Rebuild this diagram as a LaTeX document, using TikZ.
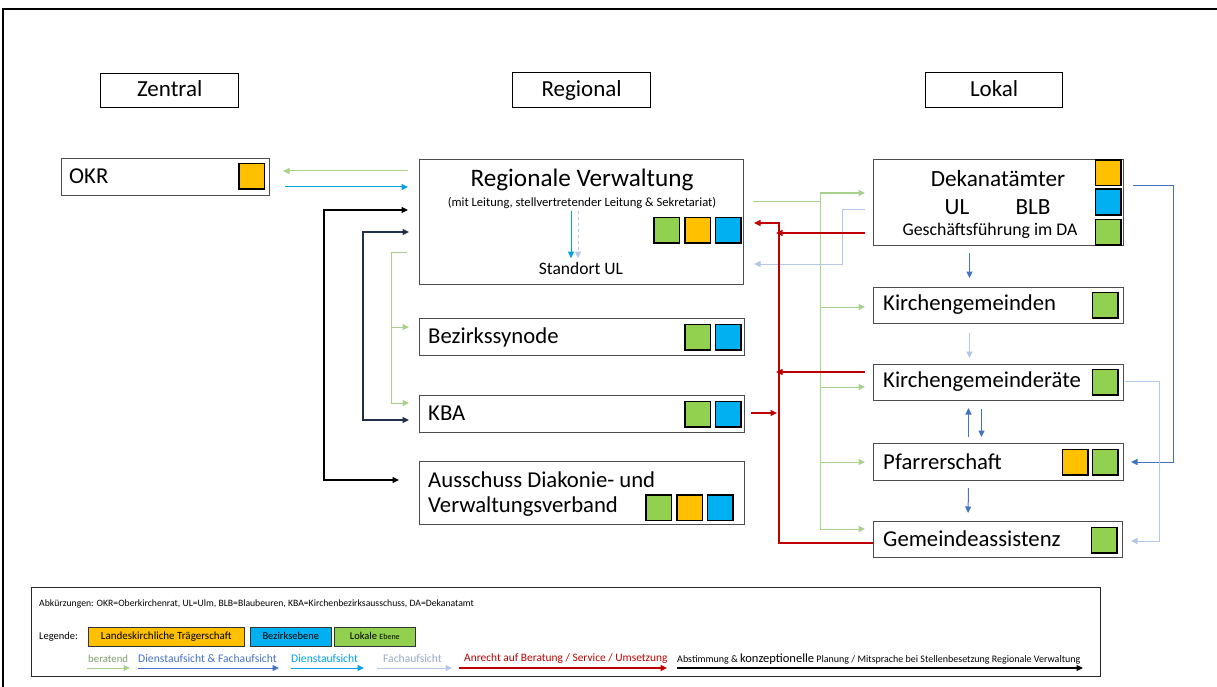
\documentclass[tikz,border=0pt]{standalone}
\usepackage{fontspec}
\setmainfont{Carlito}
\usetikzlibrary{arrows.meta,calc}

\definecolor{sqgreen}{HTML}{92D050}
\definecolor{sqorange}{HTML}{FFC000}
\definecolor{sqblue}{HTML}{00B0F0}
\definecolor{cbera}{HTML}{A9D18E}
\definecolor{cdfa}{HTML}{4472C4}
\definecolor{cdienst}{HTML}{00A2E8}
\definecolor{cfach}{HTML}{B4C7E7}
\definecolor{canr}{HTML}{C00000}
\definecolor{cnavy}{HTML}{22304A}

\newcommand\fs[2]{\fontsize{#1}{#2}\selectfont}

\tikzset{
  >={Triangle[length=6.5pt,width=6pt]},
  hdr/.style={draw=black, line width=1.3pt, inner sep=0pt, anchor=north west, font=\fs{23}{26}, text height=15pt, text depth=3pt},
  box/.style={draw=black!70, line width=1pt, fill=white, inner sep=0pt, anchor=north west},
  lbl/.style={anchor=west, inner sep=0pt, font=\fs{22.7}{27}},
  sq/.style={draw=black, line width=1.5pt, minimum size=25.5pt, inner sep=0pt, anchor=north west},
  legbox/.style={draw=black!80, line width=0.6pt, inner sep=0pt, anchor=north west, minimum height=19pt, text height=7.5pt, text depth=2pt},
  beratend/.style={draw=cbera, line width=1pt},
  dfa/.style={draw=cdfa, line width=1pt},
  dienst/.style={draw=cdienst, line width=1pt},
  fach/.style={draw=cfach, line width=1pt},
  anrecht/.style={draw=canr, line width=1.2pt},
  abst/.style={draw=black, line width=1.1pt},
  legtxt/.style={anchor=west, inner sep=0pt, font=\fs{11.6}{13}},
}

\begin{document}
\begin{tikzpicture}[x=1pt,y=-1pt]
\useasboundingbox (0,0) rectangle (1217,687);
% page frame (top and left)
\draw[black, line width=1.5pt] (3,687) -- (3,9) -- (1217,9);

% column headers
\node[hdr, minimum width=138pt, minimum height=34pt] (zen) at (100,73) {Zentral};
\node[hdr, minimum width=138pt, minimum height=35pt] (regh) at (512,72) {Regional};
\node[hdr, minimum width=137pt, minimum height=35pt] (lokh) at (925,72) {Lokal};

% central level
\node[box, minimum width=208pt, minimum height=37pt] (okr) at (61,158) {};
\node[lbl] (okrT) at (69,176.5) {OKR};
\node[sq, fill=sqorange] (okrO) at (238,163) {};

% regional level
\node[box, minimum width=324pt, minimum height=125pt] (reg) at (419,159) {};
\node[inner sep=0pt, font=\fs{25.2}{29}] (regT) at (582,180) {Regionale Verwaltung};
\node[inner sep=0pt, font=\fs{12.6}{14}] (regS) at (582,203) {(mit Leitung, stellvertretender Leitung \& Sekretariat)};
\node[inner sep=0pt, font=\fs{17.5}{20}] (regU) at (581,268.5) {Standort UL};
\node[sq, fill=sqgreen] (regG) at (653,216.5) {};
\node[sq, fill=sqorange] (regO) at (684,216.5) {};
\node[sq, fill=sqblue] (regB) at (714.5,216.5) {};
\draw[dienst, ->, shorten <=2pt, shorten >=4pt] ([xshift=-11pt]regS.south) -- ([xshift=-10pt]regU.north);
\draw[fach, dashed, ->, shorten <=2pt, shorten >=4pt] ([xshift=-4pt]regS.south) -- ([xshift=-3pt]regU.north);

\node[box, minimum width=325pt, minimum height=37pt] (bez) at (419,318) {};
\node[lbl] (bezT) at (428,337) {Bezirkssynode};
\node[sq, fill=sqgreen] (bezG) at (684,323.5) {};
\node[sq, fill=sqblue] (bezB) at (714.5,323.5) {};

\node[box, minimum width=325pt, minimum height=37pt] (kba) at (419,395) {};
\node[lbl] (kbaT) at (428,413.5) {KBA};
\node[sq, fill=sqgreen] (kbaG) at (684,400.5) {};
\node[sq, fill=sqblue] (kbaB) at (714.5,400.5) {};

\node[box, minimum width=325pt, minimum height=63pt] (aus) at (419,461) {};
\node[lbl] (ausT1) at (428,479.5) {Ausschuss Diakonie- und};
\node[lbl] (ausT2) at (428,506.5) {Verwaltungsverband};
\node[sq, fill=sqgreen] (ausG) at (645,494) {};
\node[sq, fill=sqorange] (ausO) at (676,494) {};
\node[sq, fill=sqblue] (ausB) at (706.5,494) {};

% local level
\node[box, minimum width=250pt, minimum height=86pt] (dek) at (873,159) {};
\node[inner sep=0pt, font=\fs{23.2}{27}] (dekT) at (998,178.5) {Dekanatämter};
\node[inner sep=0pt, font=\fs{23.2}{27}] (dekUL) at (957,207) {UL};
\node[inner sep=0pt, font=\fs{23.2}{27}] (dekBLB) at (1033,207) {BLB};
\node[inner sep=0pt, font=\fs{17.8}{20}] (dekGF) at (990,230.5) {Geschäftsführung im DA};
\node[sq, fill=sqorange] (dekO) at (1094.5,159.5) {};
\node[sq, fill=sqblue] (dekB) at (1094.5,188.5) {};
\node[sq, fill=sqgreen] (dekG) at (1094.5,218.5) {};

\node[box, minimum width=250pt, minimum height=36pt] (kg) at (873,287) {};
\node[lbl] (kgT) at (883,305) {Kirchengemeinden};
\node[sq, fill=sqgreen] (kgG) at (1091.5,291.5) {};

\node[box, minimum width=250pt, minimum height=36pt] (kgr) at (873,364) {};
\node[lbl] (kgrT) at (883,382) {Kirchengemeinderäte};
\node[sq, fill=sqgreen] (kgrG) at (1091.5,368.5) {};

\node[box, minimum width=250pt, minimum height=37pt] (pf) at (873,443) {};
\node[lbl] (pfT) at (883,461.5) {Pfarrerschaft};
\node[sq, fill=sqorange] (pfO) at (1061.5,448.5) {};
\node[sq, fill=sqgreen] (pfG) at (1091.5,448.5) {};

\node[box, minimum width=249pt, minimum height=36pt] (ga) at (873,521) {};
\node[lbl] (gaT) at (883,539) {Gemeindeassistenz};
\node[sq, fill=sqgreen] (gaG) at (1090.5,526.5) {};

% bus lines
\coordinate (gl) at (391,0);
\coordinate (gr) at (820,0);
\coordinate (rb) at (779,0);

% OKR <-> Regionale Verwaltung
\draw[beratend, ->, shorten <=11pt, shorten >=13pt] (reg.west |- 0,171) -- (okr.east |- 0,171);
\draw[dienst, ->, shorten <=15pt, shorten >=11pt] (okr.east |- 0,187) -- (reg.west |- 0,187);

% coordination loops on the left
\draw[abst, <->, shorten <=20pt, shorten >=11pt] (aus.west |- 0,480) -| (324,210) -- (reg.west |- 0,210);
\draw[draw=cnavy, line width=1.1pt, <->, shorten <=10pt, shorten >=10pt] (kba.west |- 0,420) -| (363,232) -- (reg.west |- 0,232);

% advisory bracket on the left
\draw[beratend, ->, shorten <=12pt, shorten >=10pt] (reg.west |- 0,252) -| (gl |- 0,403) -- (kba.west |- 0,403);
\draw[beratend, ->, shorten >=10pt] (gl |- 0,327) -- (bez.west |- 0,327);

% advisory bus on the right
\draw[beratend, shorten <=9pt] (reg.east |- 0,201) -- (gr |- 0,201);
\draw[beratend] (gr |- 0,193) -- (gr |- 0,529);
\draw[beratend, ->, shorten >=8pt] (gr |- 0,193) -- (dek.west |- 0,193);
\draw[beratend, ->, shorten >=8pt] (gr |- 0,307) -- (kg.west |- 0,307);
\draw[beratend, ->, shorten >=8pt] (gr |- 0,387) -- (kgr.west |- 0,387);
\draw[beratend, ->, shorten >=8pt] (gr |- 0,462) -- (pf.west |- 0,462);
\draw[beratend, ->, shorten >=8pt] (gr |- 0,529) -- (ga.west |- 0,529);

% Fachaufsicht Dekanatämter -> Standort UL
\draw[fach, ->, shorten <=8pt, shorten >=10pt] (dek.west |- 0,209) -| (842,264) -- (reg.east |- 0,264);

% service bus (red)
\draw[anrecht, ->, shorten >=10pt] (ga.west |- 0,543) -| (rb |- 0,223) -- (reg.east |- 0,223);
\draw[anrecht, ->, shorten <=8pt, shorten >=-3pt] (dek.west |- 0,233) -- (rb |- 0,233);
\draw[anrecht, ->, shorten <=8pt, shorten >=-3pt] (kgr.west |- 0,372) -- (rb |- 0,372);
\draw[anrecht, ->, shorten <=6pt, shorten >=2pt] (kba.east |- 0,413) -- (rb |- 0,413);

% supervision inside the local column
\draw[dfa, ->, shorten <=7pt, shorten >=9pt] ([xshift=-29pt]dek.south) -- ([xshift=-29pt]kg.north);
\draw[fach, ->, shorten <=9pt, shorten >=6pt] ([xshift=-29pt]kg.south) -- ([xshift=-29pt]kgr.north);
\draw[dfa, ->, shorten <=6pt, shorten >=7pt] ([xshift=-30pt]pf.north) -- ([xshift=-30pt]kgr.south);
\draw[dfa, ->, shorten <=8pt, shorten >=6pt] ([xshift=-17pt]kgr.south) -- ([xshift=-17pt]pf.north);
\draw[dfa, ->, shorten <=7pt, shorten >=8pt] ([xshift=-30pt]pf.south) -- ([xshift=-30pt]ga.north);

% supervision loops on the right
\draw[dfa, ->, shorten <=9pt, shorten >=7pt] (dek.east |- 0,186) -| (1173,462) -- (pf.east |- 0,462);
\draw[fach, ->, shorten <=1pt, shorten >=8pt] (kgr.east |- 0,381) -| (1159,541) -- (ga.east |- 0,541);

% legend
\node[draw=black!85, line width=0.8pt, inner sep=0pt, anchor=north west, minimum width=1069pt, minimum height=89pt] (leg) at (31,587) {};
\node[legtxt, font=\fs{9.7}{11}] (abk) at (39,604) {Abkürzungen: OKR=Oberkirchenrat, UL=Ulm, BLB=Blaubeuren, KBA=Kirchenbezirksausschuss, DA=Dekanatamt};
\node[legtxt, font=\fs{10.5}{12}] (legT) at (39,637) {Legende:};
\node[legbox, fill=sqorange, minimum width=156pt, font=\fs{11}{12}] (legO) at (88,627) {Landeskirchliche Trägerschaft};
\node[legbox, fill=sqblue, minimum width=81pt, font=\fs{10.5}{12}] (legB) at (250,627) {Bezirksebene};
\node[legbox, fill=sqgreen, minimum width=81pt, font=\fs{10.5}{12}] (legG) at (334,627) {Lokale {\fs{8}{9}Ebene}};

\node[legtxt, text=cbera!75!black, font=\fs{10.8}{13}] (lb1) at (88,659) {beratend};
\node[legtxt, text=cdfa] (lb2) at (138,659) {Dienstaufsicht \& Fachaufsicht};
\node[legtxt, text=cdienst] (lb3) at (291,659) {Dienstaufsicht};
\node[legtxt, text=cfach!85!black] (lb4) at (383,659) {Fachaufsicht};
\node[legtxt, text=canr, font=\fs{11.4}{13}] (lb5) at (464,659) {Anrecht auf Beratung / Service / Umsetzung};
\node[legtxt, font=\fs{10}{12}] (lb6) at (677,659) {Abstimmung \& {\fs{12.5}{13}konzeptionelle} Planung / Mitsprache bei Stellenbesetzung Regionale Verwaltung};

\draw[beratend, ->] (87,668) -- (130,668);
\draw[dfa, ->] (138,668) -- (279,668);
\draw[dienst, ->] (291,668) -- (364,668);
\draw[fach, ->] (377,668) -- (452,668);
\draw[anrecht, ->] (459,668) -- (667,668);
\draw[abst, ->] (677,668) -- (1083,668);
\end{tikzpicture}
\end{document}
